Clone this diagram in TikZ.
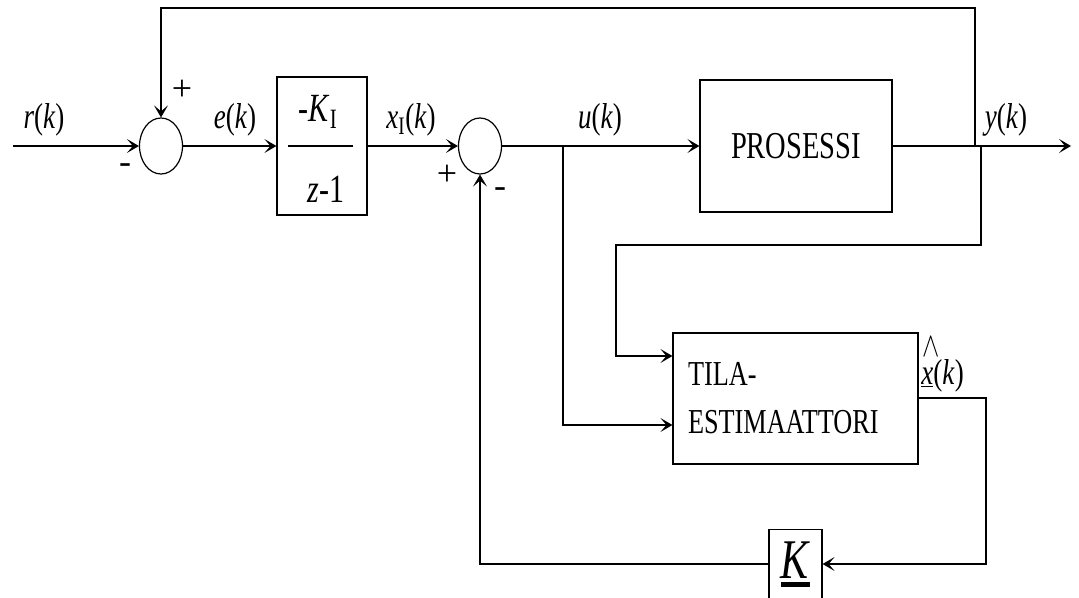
\documentclass[tikz,border=0pt]{standalone}
\usepackage{fontspec}
\setmainfont{Liberation Serif}
\usetikzlibrary{shapes,arrows.meta,calc}
\newcommand{\nrw}[1]{\scalebox{0.75}[1]{#1}}

\begin{document}
\begin{tikzpicture}[x=0.5pt,y=-0.5pt]
        \tikzset{
            style block/.style={draw,line width=0.6pt,inner sep=0pt},
            style sum/.style={draw,ellipse,line width=0.6pt,minimum width=21.5pt,minimum height=28pt,inner sep=0pt},
            style label/.style={anchor=base,inner sep=0pt,font=\fontsize{18}{20}\selectfont},
            style sign/.style={inner sep=0pt,font=\fontsize{18}{20}\selectfont},
            style line/.style={line width=0.6pt},
            style arrow/.style={line width=0.6pt,-{Stealth[length=6pt,width=7pt,inset=3pt]}}
        };
        \useasboundingbox (0,0) rectangle (1079,598);
        \coordinate (in) at (13,146);
        \node[style sum] (sum1) at (161,146) {};
        \node[style block,minimum width=45pt,minimum height=69pt] (integ) at (322,146) {};
        \node[style sum] (sum2) at (480,146) {};
        \node[style block,minimum width=96pt,minimum height=66pt,font=\fontsize{19}{21}\selectfont] (proc) at (796,146) {\nrw{PROSESSI}};
        \coordinate (out) at (1071,146);
        \node[style block,minimum width=122.5pt,minimum height=65.5pt,text width=107.5pt,inner xsep=7.5pt,align=left,font=\fontsize{17.5}{24}\selectfont] (est) at (795.5,398.5) {\nrw{TILA-}\\\nrw{ESTIMAATTORI}};
        \node[style block,anchor=north,minimum width=26.5pt,minimum height=35pt,font=\fontsize{28}{30}\selectfont] (gain) at (795.5,529) {\shortstack{\nrw{\textit{K}}\\[-1pt]\rule{14.5pt}{2.5pt}}};
        \node[anchor=base,inner sep=0pt,font=\fontsize{20}{22}\selectfont] (kinum) at (318,122) {\nrw{-\textit{K}\textsubscript{I}}};
        \node[anchor=base,inner sep=0pt,font=\fontsize{20}{22}\selectfont] (kiden) at (326,203) {\nrw{\textit{z}-1}};
        \draw[style line] ($(integ.west)+(6pt,0)$) -- ($(integ.east)+(-7.5pt,0)$);
        \coordinate (ytop) at (975,146);
        \coordinate (yest) at (981,146);
        \coordinate (ubr) at (563,146);
        \draw[style arrow] (in) -- (sum1.west);
        \draw[style arrow] (sum1.east) -- (integ.west);
        \draw[style arrow] (integ.east) -- (sum2.west);
        \draw[style arrow] (sum2.east) -- (proc.west);
        \draw[style arrow] (proc.east) -- (out);
        \draw[style arrow] (ytop) -- (975,8) -| (sum1.north);
        \draw[style arrow] (yest) -- (981,245) -- (616,245) -- (616,356) -- (est.west |- 0,356);
        \draw[style arrow] (ubr) -- (563,425) -- (est.west |- 0,425);
        \draw[style arrow] (est.east |- 0,398) -- (986,398) -- (986,564) -- (gain.east |- 0,564);
        \draw[style arrow] (gain.west |- 0,564) -| (sum2.south);
        \node[style label] (rlbl) at (44,129) {\nrw{\textit{r}(\textit{k})}};
        \node[style label] (elbl) at (235,129) {\nrw{\textit{e}(\textit{k})}};
        \node[style label] (xilbl) at (411,129) {\nrw{\textit{x}\textsubscript{I}(\textit{k})}};
        \node[style label] (ulbl) at (600,129) {\nrw{\textit{u}(\textit{k})}};
        \node[style label] (ylbl) at (1006,129) {\nrw{\textit{y}(\textit{k})}};
        \node[style label,anchor=base west] (xhatlbl) at (921,384) {\nrw{\makebox[0pt][l]{\raisebox{14pt}{\hspace{1pt}$\wedge$}}\underline{\textit{x}}(\textit{k})}};
        \node[style sign] (plus1) at (182,90) {+};
        \node[style sign] (minus1) at (125,169) {-};
        \node[style sign] (plus2) at (447,175) {+};
        \node[style sign] (minus2) at (500,193) {-};
\end{tikzpicture}
\end{document}
